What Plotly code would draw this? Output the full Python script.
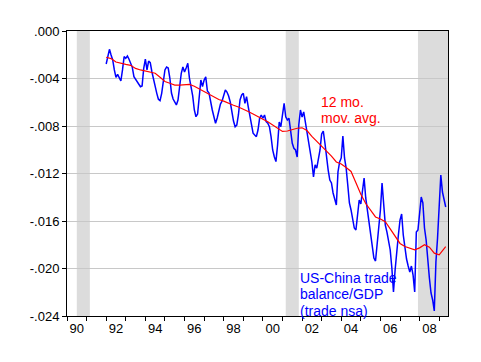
import pandas as pd
import plotly.graph_objects as go

# US-China trade balance / GDP, monthly, starting Jan 1992
blue_start = "1992-01"
blue = [
    -0.00278, -0.00210, -0.00154, -0.00202, -0.00244, -0.00328, -0.00390, -0.00365, -0.00398, -0.00421, -0.00328, -0.00216,  # 1992
    -0.00230, -0.00210, -0.00238, -0.00267, -0.00306, -0.00385, -0.00407, -0.00427, -0.00440, -0.00469, -0.00463, -0.00314,  # 1993
    -0.00236, -0.00328, -0.00253, -0.00267, -0.00343, -0.00413, -0.00469, -0.00525, -0.00575, -0.00587, -0.00525, -0.00413,  # 1994
    -0.00328, -0.00303, -0.00312, -0.00396, -0.00522, -0.00573, -0.00595, -0.00623, -0.00581, -0.00480, -0.00356, -0.00303,  # 1995
    -0.00345, -0.00312, -0.00272, -0.00396, -0.00469, -0.00547, -0.00665, -0.00722, -0.00699, -0.00539, -0.00413, -0.00469,  # 1996
    -0.00413, -0.00387, -0.00505, -0.00522, -0.00606, -0.00665, -0.00722, -0.00777, -0.00733, -0.00665, -0.00615, -0.00590,  # 1997
    -0.00539, -0.00497, -0.00514, -0.00547, -0.00598, -0.00682, -0.00758, -0.00806, -0.00792, -0.00707, -0.00581, -0.00539,  # 1998
    -0.00525, -0.00609, -0.00553, -0.00637, -0.00707, -0.00777, -0.00861, -0.00876, -0.00890, -0.00834, -0.00735, -0.00707,  # 1999
    -0.00735, -0.00707, -0.00764, -0.00777, -0.00806, -0.00890, -0.01002, -0.01059, -0.01100, -0.00960, -0.00766, -0.00806,  # 2000
    -0.00682, -0.00609, -0.00722, -0.00749, -0.00735, -0.00834, -0.00946, -0.00988, -0.01002, -0.01061, -0.00791, -0.00665,  # 2001
    -0.00724, -0.00682, -0.00766, -0.00834, -0.00918, -0.01002, -0.01103, -0.01229, -0.01128, -0.01154, -0.01086, -0.01002,  # 2002
    -0.00867, -0.00842, -0.00943, -0.01086, -0.01171, -0.01255, -0.01280, -0.01364, -0.01423, -0.01465, -0.01187, -0.01103,  # 2003
    -0.01069, -0.00884, -0.01069, -0.01154, -0.01297, -0.01448, -0.01507, -0.01592, -0.01659, -0.01676, -0.01549, -0.01423,  # 2004
    -0.01457, -0.01322, -0.01238, -0.01406, -0.01507, -0.01608, -0.01701, -0.01802, -0.01912, -0.01937, -0.01802, -0.01634,  # 2005
    -0.01507, -0.01280, -0.01448, -0.01634, -0.01693, -0.01785, -0.01844, -0.01996, -0.02198, -0.02013, -0.01844, -0.01718,  # 2006
    -0.01592, -0.01541, -0.01718, -0.01844, -0.01920, -0.01979, -0.02029, -0.01979, -0.02055, -0.02198, -0.01693, -0.01676,  # 2007
    -0.01533, -0.01398, -0.01448, -0.01659, -0.01760, -0.01945, -0.02080, -0.02206, -0.02265, -0.02358, -0.01945, -0.01743,  # 2008
    -0.01465, -0.01213, -0.01356, -0.01423, -0.01482,                                                                       # 2009
]

# 12 month moving average, read every third month (index into the monthly series)
red_idx = list(range(0, 208, 3)) + [208]
red = [
    -0.00221, -0.00232, -0.00261, -0.00273, -0.00281, -0.00289, -0.00315, -0.00328,
    -0.00337, -0.00343, -0.00356, -0.00389, -0.00425, -0.00440, -0.00455, -0.00455,
    -0.00455, -0.00450, -0.00465, -0.00487, -0.00510, -0.00533, -0.00560, -0.00577,
    -0.00591, -0.00611, -0.00625, -0.00640, -0.00657, -0.00678, -0.00699, -0.00724,
    -0.00743, -0.00764, -0.00792, -0.00825, -0.00846, -0.00842, -0.00829, -0.00819,
    -0.00815, -0.00838, -0.00888, -0.00929, -0.00971, -0.01011, -0.01053, -0.01103,
    -0.01120, -0.01149, -0.01183, -0.01278, -0.01375, -0.01453, -0.01507, -0.01566,
    -0.01583, -0.01606, -0.01667, -0.01728, -0.01789, -0.01815, -0.01828, -0.01842,
    -0.01826, -0.01799, -0.01821, -0.01871, -0.01885, -0.01832, -0.01815,
]

# NBER recessions (shaded); last one runs to the end of the axis
recession_start = ["1990-07", "2001-03", "2007-12"]
recession_end = ["1991-03", "2001-11", None]

x_range = [1990, 2009.45]
y_tickvals = [0.0, -0.004, -0.008, -0.012, -0.016, -0.020, -0.024]
y_ticktext = [".000", "-.004", "-.008", "-.012", "-.016", "-.020", "-.024"]
x_label_years = list(range(1990, 2009, 2))
x_ticktext = ["90", "92", "94", "96", "98", "00", "02", "04", "06", "08"]


def dec_year(p):
    return p.year + (p.month - 1) / 12.0


months = pd.period_range(blue_start, periods=len(blue), freq="M")
t_blue = [dec_year(p) for p in months]
t_red = [t_blue[i] for i in red_idx]

fig = go.Figure()

shapes = []
for s, e in zip(recession_start, recession_end):
    x0 = dec_year(pd.Period(s, freq="M"))
    x1 = x_range[1] if e is None else dec_year(pd.Period(e, freq="M"))
    shapes.append(dict(type="rect", xref="x", yref="paper", x0=x0, x1=x1, y0=0, y1=1,
                       fillcolor="#dcdcdc", line=dict(width=0), layer="between"))

fig.add_trace(go.Scatter(x=t_blue, y=blue, mode="lines",
                         line=dict(color="#0000ff", width=1.5), showlegend=False))
fig.add_trace(go.Scatter(x=t_red, y=red, mode="lines",
                         line=dict(color="#ff0000", width=1.2), showlegend=False))

font_txt = "Arial, Liberation Sans, sans-serif"

annotations = []
for txt, yp in [("12 mo.", 0.751), ("mov. avg.", 0.695)]:
    annotations.append(dict(text=txt, xref="paper", yref="paper", x=0.661, y=yp,
                            xanchor="left", yanchor="middle", showarrow=False,
                            font=dict(family=font_txt, size=14, color="#ff0000")))
for txt, yp in [("US-China trade", 0.133), ("balance/GDP", 0.077), ("(trade nsa)", 0.018)]:
    annotations.append(dict(text=txt, xref="paper", yref="paper", x=0.606, y=yp,
                            xanchor="left", yanchor="middle", showarrow=False,
                            font=dict(family=font_txt, size=14, color="#0000ff")))

# page body adds an 8px offset, so the figure is sized to fit inside the window
fig.update_layout(
    width=465, height=346,
    margin=dict(l=59, r=25, t=23, b=38),
    paper_bgcolor="white", plot_bgcolor="white",
    shapes=shapes, annotations=annotations,
    font=dict(family=font_txt, size=13, color="black"),
    xaxis=dict(
        range=x_range, showgrid=False, zeroline=False,
        showline=True, mirror=True, linecolor="black", linewidth=1,
        tickmode="array", tickvals=[y + 0.5 for y in x_label_years], ticktext=x_ticktext,
        ticks="", tickfont=dict(size=13),
        minor=dict(tickmode="array", tickvals=list(range(1990, 2010)),
                   ticks="outside", ticklen=4, tickcolor="black", showgrid=False),
    ),
    yaxis=dict(
        range=[-0.024, 0.0], zeroline=False,
        showline=True, mirror=True, linecolor="black", linewidth=1,
        showgrid=True, gridcolor="#c8c8c8", gridwidth=1,
        tickmode="array", tickvals=y_tickvals, ticktext=y_ticktext,
        ticks="outside", ticklen=4, tickcolor="black", tickfont=dict(size=13),
    ),
)

fig.write_html("out.html")
